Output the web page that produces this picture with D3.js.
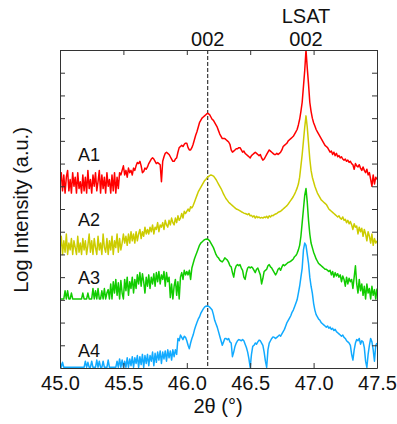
<!DOCTYPE html>
<html>
<head>
<meta charset="utf-8">
<script src="https://cdn.jsdelivr.net/npm/d3@7"></script>
<style>
  body { margin: 0; background: #fff; }
  text { font-family: "Liberation Sans", Arial, sans-serif; fill: #111; }
</style>
</head>
<body>
<div id="chart"></div>
<script>
// 2theta sampling of the scans
const thetaStart = 45.0;
const thetaStep = 0.01;

const sampleNames = ['A1', 'A2', 'A3', 'A4'];
const sampleColors = ['#ff0000', '#cccc00', '#11cc00', '#11aaff'];

// log intensity, already offset per sample (one row = 0.1 deg)
const a1 = [
  8.1, 8.6, 7.8, 8.5, 7.7, 8.4, 8.7, 7.8, 8.3, 7.7,
  8.6, 8.0, 8.4, 7.7, 8.6, 7.9, 8.2, 7.7, 8.5, 7.8,
  8.4, 7.7, 8.7, 7.9, 8.3, 7.7, 8.5, 8.0, 8.6, 7.8,
  8.2, 8.7, 7.7, 8.5, 7.9, 8.4, 7.7, 8.6, 8.0, 8.3,
  7.7, 8.5, 7.8, 8.6, 7.7, 8.4, 7.9, 8.6, 8.5, 8.7,
  8.9, 8.5, 8.7, 8.4, 8.8, 8.6, 8.7, 8.5, 8.8, 8.7,
  8.9, 9.05, 9.0, 9.1, 8.9, 8.6, 8.65, 8.8, 8.75, 8.85,
  9.0, 9.1, 9.2, 9.25, 9.2, 9.1, 9.0, 9.05, 9.0, 8.95,
  8.2, 9.1, 9.3, 9.45, 9.5, 9.45, 9.4, 9.3, 9.2, 9.1,
  9.1, 9.2, 9.25, 9.5, 9.7, 9.75, 9.8, 9.75, 9.85, 9.9,
  9.9, 9.7, 9.6, 9.6, 9.7, 9.85, 10.05, 10.25, 10.4, 10.6,
  10.8, 10.9, 11.0, 11.05, 11.1, 11.15, 11.2, 11.2, 11.15, 11.05,
  10.95, 10.9, 10.8, 10.7, 10.6, 10.45, 10.3, 10.2, 10.1, 10.1,
  10.1, 10.05, 10.0, 9.95, 9.85, 9.6, 9.5, 9.55, 9.6, 9.65,
  9.65, 9.7, 9.7, 9.6, 9.5, 9.55, 9.45, 9.4, 9.35, 9.3,
  9.25, 9.35, 9.4, 9.45, 9.5, 9.45, 9.4, 9.35, 9.4, 9.25,
  9.15, 9.2, 9.3, 9.4, 9.5, 9.6, 9.55, 9.5, 9.45, 9.4,
  9.4, 9.45, 9.4, 9.45, 9.5, 9.6, 9.75, 9.8, 9.85, 9.9,
  10.0, 10.05, 10.1, 10.15, 10.2, 10.3, 10.4, 10.5, 10.7, 10.95,
  11.3, 11.7, 12.4, 13.1, 14.0, 13.2, 12.5, 11.7, 11.3, 11.0,
  10.8, 10.65, 10.5, 10.4, 10.3, 10.2, 10.1, 10.0, 9.9, 9.8,
  9.75, 9.7, 9.6, 9.5, 9.55, 9.4, 9.5, 9.35, 9.45, 9.3,
  9.35, 9.25, 9.3, 9.2, 9.15, 9.2, 9.1, 9.15, 9.05, 9.1,
  9.0, 8.95, 8.75, 9.0, 8.9, 8.85, 8.95, 8.8, 8.7, 8.85,
  8.7, 8.6, 8.75, 8.5, 8.6, 8.3, 8.0, 8.5, 8.1, 8.4,
  8.3
];

const a2 = [
  5.2, 5.8, 5.0, 5.6, 5.1, 5.9, 5.0, 5.5, 5.2, 5.7,
  5.0, 5.6, 5.3, 5.0, 5.8, 5.1, 5.5, 5.0, 5.7, 5.2,
  5.6, 5.0, 5.4, 5.9, 5.1, 5.6, 5.0, 5.7, 5.3, 5.0,
  5.8, 5.2, 5.5, 5.0, 5.9, 5.3, 5.1, 5.7, 5.0, 5.6,
  5.2, 5.8, 5.0, 5.6, 5.3, 5.9, 5.1, 5.7, 5.2, 5.5,
  5.9, 5.5, 5.8, 5.4, 5.9, 5.5, 6.0, 5.6, 5.9, 5.5,
  6.0, 5.6, 5.9, 6.1, 5.7, 6.0, 5.8, 6.2, 5.9, 6.1,
  5.9, 6.2, 6.0, 6.3, 5.9, 6.2, 6.1, 6.4, 6.0, 6.3,
  6.2, 6.4, 6.1, 6.5, 6.3, 6.2, 6.5, 6.3, 6.6, 6.4,
  6.3, 6.6, 6.4, 6.7, 6.5, 6.6, 6.8, 6.6, 6.9, 6.8,
  6.9, 7.0, 6.9, 7.1, 7.05, 7.15, 7.3, 7.45, 7.6, 7.75,
  7.85, 7.95, 8.05, 8.15, 8.25, 8.3, 8.38, 8.43, 8.47, 8.5,
  8.48, 8.45, 8.38, 8.3, 8.2, 8.1, 8.0, 7.9, 7.78, 7.65,
  7.55, 7.45, 7.38, 7.3, 7.25, 7.2, 7.15, 7.1, 7.05, 7.0,
  6.98, 6.95, 6.92, 6.88, 6.85, 6.82, 6.8, 6.78, 6.75, 6.8,
  6.7, 6.72, 6.65, 6.7, 6.6, 6.68, 6.62, 6.65, 6.6, 6.63,
  6.6, 6.65, 6.62, 6.68, 6.6, 6.7, 6.65, 6.72, 6.7, 6.75,
  6.78, 6.8, 6.85, 6.88, 6.9, 6.95, 7.0, 7.05, 7.1, 7.15,
  7.22, 7.3, 7.38, 7.46, 7.55, 7.65, 7.78, 7.92, 8.1, 8.4,
  8.9, 9.4, 10.0, 10.6, 11.1, 10.6, 9.9, 9.2, 8.7, 8.4,
  8.2, 8.0, 7.85, 7.7, 7.6, 7.5, 7.4, 7.35, 7.3, 7.25,
  7.2, 7.1, 7.0, 6.95, 6.9, 6.85, 6.8, 6.75, 6.7, 6.65,
  6.7, 6.6, 6.55, 6.65, 6.5, 6.55, 6.4, 6.5, 6.35, 6.45,
  6.3, 6.1, 6.35, 6.2, 6.25, 5.9, 6.2, 6.0, 6.15, 5.8,
  6.1, 5.9, 5.6, 6.0, 5.8, 5.5, 5.9, 5.4, 5.7, 5.5,
  5.6
];

const a3 = [
  3.04, 3.04, 3.04, 3.04, 3.4, 3.04, 3.4, 3.04, 3.04, 3.3,
  3.04, 3.04, 3.04, 3.04, 3.04, 3.04, 3.04, 3.04, 3.3, 3.04,
  3.04, 3.04, 3.3, 3.04, 3.04, 3.04, 3.5, 3.04, 3.4, 3.04,
  3.5, 3.04, 3.04, 3.4, 3.04, 3.5, 3.04, 3.3, 3.45, 3.04,
  3.7, 3.04, 3.8, 3.3, 3.9, 3.2, 3.75, 3.04, 3.85, 3.3,
  3.04, 3.9, 3.4, 4.0, 3.2, 3.8, 3.5, 4.0, 3.3, 3.9,
  3.5, 4.1, 3.7, 4.2, 3.6, 4.15, 3.8, 3.3, 4.0, 3.6,
  4.1, 3.5, 4.0, 3.7, 4.15, 3.6, 4.2, 3.8, 4.25, 3.7,
  4.1, 3.9, 4.25, 3.6, 4.2, 3.8, 4.0, 3.1, 3.7, 3.04,
  3.6, 3.9, 3.2, 3.8, 3.04, 4.0, 4.2, 3.9, 4.3, 4.1,
  4.25, 4.1, 4.3, 3.9, 4.4, 4.6, 4.8, 4.95, 5.1, 5.25,
  5.4, 5.5, 5.55, 5.6, 5.65, 5.67, 5.68, 5.65, 5.6, 5.5,
  5.4, 5.3, 5.15, 5.0, 4.9, 4.85, 4.75, 4.7, 4.67, 4.75,
  4.85, 4.8, 4.75, 4.65, 4.5, 4.45, 4.2, 4.0, 4.35, 4.5,
  4.55, 4.5, 4.55, 4.4, 4.3, 4.0, 3.9, 4.2, 4.4, 4.45,
  4.4, 4.45, 4.4, 4.3, 4.2, 4.35, 4.4, 4.25, 4.1, 3.7,
  3.95, 4.25, 4.3, 4.35, 4.5, 4.55, 4.45, 4.4, 4.3, 4.2,
  4.1, 4.2, 4.35, 4.4, 4.3, 4.45, 4.55, 4.5, 4.55, 4.6,
  4.65, 4.67, 4.7, 4.75, 4.8, 4.9, 4.95, 5.05, 5.2, 5.4,
  5.8, 6.4, 7.0, 7.6, 7.9, 7.3, 6.5, 5.9, 5.5, 5.3,
  5.1, 4.95, 4.8, 4.7, 4.6, 4.55, 4.5, 4.45, 4.4, 4.35,
  4.35, 4.3, 4.25, 4.3, 4.1, 4.25, 4.0, 4.2, 4.05, 4.15,
  4.0, 4.1, 3.8, 4.05, 3.9, 3.6, 4.0, 3.7, 3.95, 3.8,
  3.9, 3.5, 4.0, 4.5, 3.7, 3.3, 3.9, 3.4, 3.7, 3.2,
  3.6, 3.04, 3.7, 3.3, 3.5, 3.04, 3.6, 3.2, 3.45, 3.04,
  3.5
];

const a4 = [
  0.3, 0.03, 0.25, 0.03, 0.03, 0.03, 0.03, 0.03, 0.03, 0.03,
  0.03, 0.03, 0.03, 0.03, 0.03, 0.03, 0.03, 0.03, 0.03, 0.03,
  0.3, 0.03, 0.25, 0.03, 0.03, 0.3, 0.03, 0.03, 0.03, 0.35,
  0.03, 0.3, 0.03, 0.03, 0.3, 0.03, 0.03, 0.03, 0.35, 0.03,
  0.03, 0.03, 0.03, 0.03, 0.03, 0.3, 0.03, 0.4, 0.03, 0.35,
  0.03, 0.3, 0.03, 0.45, 0.03, 0.4, 0.1, 0.5, 0.03, 0.45,
  0.2, 0.55, 0.03, 0.5, 0.15, 0.6, 0.03, 0.55, 0.2, 0.6,
  0.1, 0.55, 0.3, 0.7, 0.1, 0.65, 0.25, 0.7, 0.35, 0.75,
  0.2, 0.7, 0.4, 0.75, 0.3, 0.8, 0.45, 0.75, 0.35, 0.8,
  0.5, 0.8, 0.6, 1.3, 1.2, 1.45, 1.35, 1.25, 1.4, 1.35,
  1.2, 1.0, 0.85, 1.1, 1.3, 1.45, 1.67, 1.85, 2.0, 2.15,
  2.25, 2.4, 2.5, 2.6, 2.68, 2.72, 2.73, 2.72, 2.68, 2.62,
  2.55, 2.35, 2.1, 1.95, 1.8, 1.6, 1.4, 1.2, 1.0, 1.15,
  1.3, 1.3, 1.25, 1.3, 1.15, 1.1, 0.5, 0.7, 0.95, 1.1,
  1.2, 1.25, 1.23, 1.2, 1.25, 1.2, 1.05, 0.9, 0.7, 0.4,
  0.03, 0.6, 0.95, 1.0, 1.1, 1.05, 1.15, 1.23, 1.2, 1.1,
  1.0, 0.7, 0.3, 0.03, 0.8, 1.1, 1.2, 1.3, 1.37, 1.35,
  1.3, 1.35, 1.4, 1.45, 1.4, 1.5, 1.6, 1.7, 1.85, 2.0,
  2.1, 2.2, 2.3, 2.45, 2.55, 2.7, 2.85, 3.0, 3.3, 3.6,
  4.0, 4.4, 5.2, 5.5, 5.4, 5.0, 4.6, 4.0, 3.6, 3.3,
  2.85, 2.55, 2.35, 2.25, 2.15, 2.1, 2.0, 1.95, 1.9, 1.85,
  1.8, 1.85, 1.75, 1.8, 1.7, 1.75, 1.65, 1.7, 1.6, 1.55,
  1.5, 1.45, 1.4, 1.45, 1.35, 1.3, 1.2, 1.15, 1.1, 1.0,
  0.6, 0.35, 0.8, 1.1, 1.25, 1.2, 1.3, 1.05, 1.2, 1.15,
  0.9, 0.3, 0.03, 0.6, 1.0, 1.3, 1.15, 0.8, 0.3, 1.0,
  1.1
];

const sampleData = [a1, a2, a3, a4];
const labelLevels = [9.1, 6.25, 3.7, 0.48];   // baseline of each sample name

const xTicks = [45.0, 45.5, 46.0, 46.5, 47.0, 47.5];
const yTicks = [1, 2, 3, 4, 5, 6, 7, 8, 9, 10, 11, 12, 13];
const filmPeak = 46.165;
const substratePeak = 46.94;

const MARGIN = { top: 50, right: 20, bottom: 56, left: 60 };
const W = 397, H = 424;
const width = W - MARGIN.left - MARGIN.right;
const height = H - MARGIN.top - MARGIN.bottom;

const svg = d3.select('#chart').append('svg')
  .attr('width', W)
  .attr('height', H);

const g = svg.append('g')
  .attr('transform', `translate(${MARGIN.left},${MARGIN.top})`);

const x = d3.scaleLinear().domain([45, 47.5]).range([0, width]);
const y = d3.scaleLinear().domain([0, 14]).range([height, 0]);

g.append('clipPath').attr('id', 'plot-clip')
  .append('rect').attr('width', width).attr('height', height);

// dashed marker of the film peak
g.append('line')
  .attr('x1', x(filmPeak)).attr('x2', x(filmPeak))
  .attr('y1', 0).attr('y2', height)
  .attr('stroke', '#111')
  .attr('stroke-width', 1)
  .attr('stroke-dasharray', '4,2');

const line = d3.line()
  .x((d, i) => x(thetaStart + i * thetaStep))
  .y(d => y(d));

const curves = g.append('g').attr('clip-path', 'url(#plot-clip)');
sampleData.forEach((vals, k) => {
  curves.append('path')
    .datum(vals)
    .attr('fill', 'none')
    .attr('stroke', sampleColors[k])
    .attr('stroke-width', 1.5)
    .attr('stroke-linejoin', 'round')
    .attr('d', line);
});

// axes: ticks point inward on every side
const styleAxis = sel => {
  sel.select('.domain').attr('stroke', '#333').attr('stroke-width', 1);
  sel.selectAll('.tick line').attr('stroke', '#333');
};

g.append('g')
  .attr('transform', `translate(0,${height})`)
  .call(d3.axisBottom(x).tickValues(xTicks).tickFormat(d3.format('.1f'))
    .tickSizeInner(-5).tickSizeOuter(0).tickPadding(8))
  .call(styleAxis)
  .call(a => a.selectAll('text')
    .attr('font-size', 20)
    .attr('fill', '#111')
    .attr('font-family', '"Liberation Sans", Arial, sans-serif'));

g.append('g')
  .call(d3.axisTop(x).tickValues(xTicks).tickFormat('')
    .tickSizeInner(-5).tickSizeOuter(0))
  .call(styleAxis);

g.append('g')
  .call(d3.axisLeft(y).tickValues(yTicks).tickFormat('')
    .tickSizeInner(-5).tickSizeOuter(0))
  .call(styleAxis);

g.append('g')
  .attr('transform', `translate(${width},0)`)
  .call(d3.axisRight(y).tickValues(yTicks).tickFormat('')
    .tickSizeInner(-5).tickSizeOuter(0))
  .call(styleAxis);

// sample names
sampleNames.forEach((name, k) => {
  g.append('text')
    .attr('x', 18)
    .attr('y', y(labelLevels[k]))
    .attr('font-size', 18)
    .text(name);
});

// peak labels
g.append('text')
  .attr('x', x(filmPeak)).attr('y', -4)
  .attr('text-anchor', 'middle')
  .attr('font-size', 20)
  .text('002');

g.append('text')
  .attr('x', x(substratePeak)).attr('y', -27)
  .attr('text-anchor', 'middle')
  .attr('font-size', 20)
  .text('LSAT');

g.append('text')
  .attr('x', x(substratePeak)).attr('y', -4)
  .attr('text-anchor', 'middle')
  .attr('font-size', 20)
  .text('002');

// axis titles
svg.append('text')
  .attr('transform', `translate(28,${MARGIN.top + height / 2 + 1}) rotate(-90)`)
  .attr('text-anchor', 'middle')
  .attr('font-size', 20)
  .text('Log Intensity (a.u.)');

svg.append('text')
  .attr('x', 218).attr('y', 413)
  .attr('text-anchor', 'middle')
  .attr('font-size', 20)
  .text('2θ (°)');
</script>
</body>
</html>
